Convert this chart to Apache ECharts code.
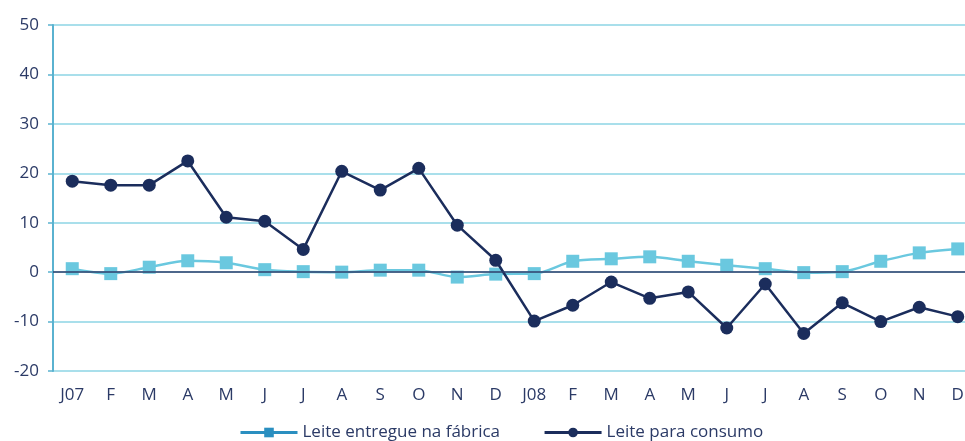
<!DOCTYPE html>
<html>
<head>
<meta charset="utf-8">
<script src="https://cdn.jsdelivr.net/npm/echarts@6/dist/echarts.min.js"></script>
<style>
  html, body { margin: 0; padding: 0; background: #fff; }
  #myChart { width: 965px; height: 441px; }
</style>
</head>
<body>
<div id="myChart"></div>
<script>
const months = ['J07', 'F', 'M', 'A', 'M', 'J', 'J', 'A', 'S', 'O', 'N', 'D',
  'J08', 'F', 'M', 'A', 'M', 'J', 'J', 'A', 'S', 'O', 'N', 'D']
const fabrica = [0.7, -0.3, 1.0, 2.3, 1.9, 0.5, 0.1, 0.0, 0.4, 0.4, -1.0, -0.4,
  -0.3, 2.2, 2.7, 3.1, 2.2, 1.4, 0.7, -0.1, 0.1, 2.2, 3.9, 4.7]
const consumo = [18.4, 17.6, 17.6, 22.5, 11.1, 10.3, 4.6, 20.4, 16.6, 21.0, 9.5, 2.4,
  -9.9, -6.7, -2.0, -5.3, -4.0, -11.3, -2.4, -12.4, -6.2, -10.0, -7.1, -9.0]
const names = ['Leite entregue na fábrica', 'Leite para consumo']

const navy = '#1b2d5c'
const lightBlue = '#6ac8df'
const textColor = '#2b3a66'

const chart = echarts.init(document.getElementById('myChart'), null, { renderer: 'canvas' })

const option = {
  animation: false,
  textStyle: { fontFamily: 'Open Sans' },
  grid: { left: 53, width: 924, top: 25, bottom: 70, outerBoundsMode: 'none' },
  legend: {
    bottom: 0,
    left: 239,
    padding: 0,
    itemWidth: 57,
    itemHeight: 12,
    itemGap: 43,
    textStyle: { color: textColor, fontSize: 17, fontFamily: 'Open Sans' },
    data: [
      { name: names[0], itemStyle: { color: '#2a8fc0' }, lineStyle: { color: '#2a8fc0', width: 3 } },
      { name: names[1], itemStyle: { color: navy }, lineStyle: { color: navy, width: 3 } }
    ]
  },
  xAxis: {
    type: 'category',
    data: months,
    boundaryGap: true,
    axisLine: { show: false },
    axisTick: { show: false },
    axisLabel: { color: textColor, fontSize: 17, margin: 16 },
    splitLine: { show: false }
  },
  yAxis: {
    type: 'value',
    min: -20,
    max: 50,
    interval: 10,
    axisLine: { show: true, lineStyle: { color: '#5ab2d0', width: 2 } },
    axisTick: { show: true, length: 5, lineStyle: { color: '#5ab2d0', width: 1.5 } },
    axisLabel: { color: textColor, fontSize: 17, margin: 14 },
    splitLine: { lineStyle: { color: '#8dd4e4', width: 1.5 } }
  },
  series: [
    {
      name: names[0],
      type: 'line',
      data: fabrica,
      smooth: 0.3,
      symbol: 'rect',
      symbolSize: 13,
      z: 3,
      lineStyle: { color: lightBlue, width: 2.5 },
      itemStyle: { color: lightBlue },
      markLine: {
        silent: true,
        symbol: 'none',
        label: { show: false },
        lineStyle: { color: '#2f3f6b', width: 1.5, type: 'solid' },
        data: [{ yAxis: 0 }]
      }
    },
    {
      name: names[1],
      type: 'line',
      data: consumo,
      symbol: 'circle',
      symbolSize: 13,
      z: 4,
      lineStyle: { color: navy, width: 2.5 },
      itemStyle: { color: navy }
    }
  ]
}

chart.setOption(option)
</script>
</body>
</html>
